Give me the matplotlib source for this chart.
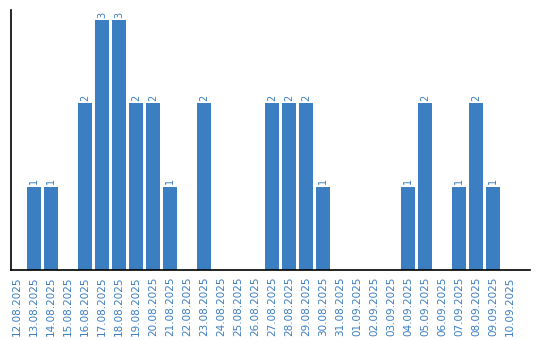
import matplotlib
matplotlib.use("Agg")
import matplotlib.pyplot as plt

dates = ["12.08.2025", "13.08.2025", "14.08.2025", "15.08.2025", "16.08.2025",
         "17.08.2025", "18.08.2025", "19.08.2025", "20.08.2025", "21.08.2025",
         "22.08.2025", "23.08.2025", "24.08.2025", "25.08.2025", "26.08.2025",
         "27.08.2025", "28.08.2025", "29.08.2025", "30.08.2025", "31.08.2025",
         "01.09.2025", "02.09.2025", "03.09.2025", "04.09.2025", "05.09.2025",
         "06.09.2025", "07.09.2025", "08.09.2025", "09.09.2025", "10.09.2025"]
counts = [0, 1, 1, 0, 2, 3, 3, 2, 2, 1,
          0, 2, 0, 0, 0, 2, 2, 2, 1, 0,
          0, 0, 0, 1, 2, 0, 1, 2, 1, 0]

blue = "#3b7ec2"
fig = plt.figure(figsize=(5.4, 3.4), dpi=100)
ax = fig.add_axes([11/540, 70/340, 519/540, 260/340])
x = list(range(len(dates)))
bars = ax.bar(x, counts, width=0.82, color=blue)
for xi, v in zip(x, counts):
    if v > 0:
        ax.text(xi, v + 0.03, str(v), rotation=90, ha="center", va="bottom",
                fontsize=7, color=blue)
ax.set_xlim(-0.35, 30.18)
ax.set_ylim(0, 3.12)
ax.set_xticks(x)
ax.set_xticklabels(dates, rotation=90, fontsize=7.5, color=blue)
ax.tick_params(axis="x", length=0, pad=5)
ax.set_yticks([])
ax.spines["top"].set_visible(False)
ax.spines["right"].set_visible(False)
ax.spines["left"].set_linewidth(1.2)
ax.spines["bottom"].set_linewidth(1.2)
fig.savefig("out.png", dpi=100)
